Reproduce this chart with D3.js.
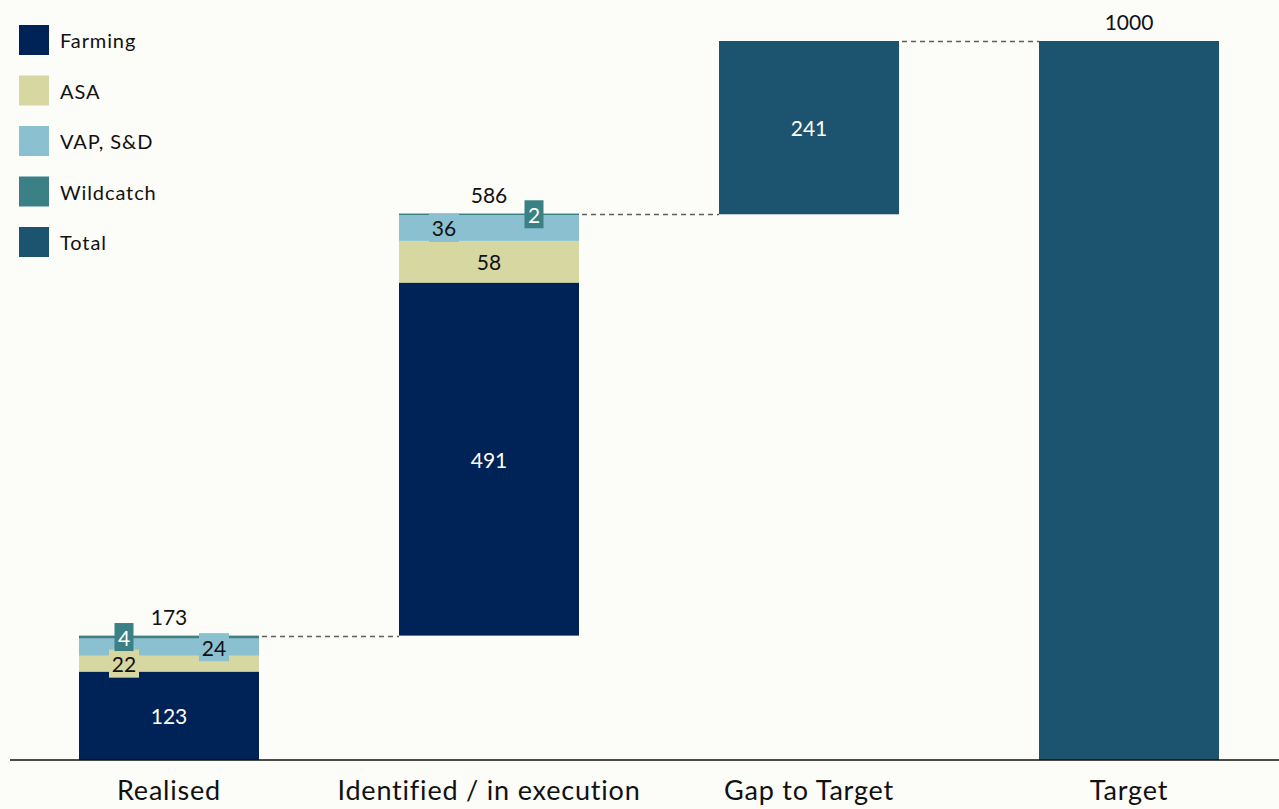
<!DOCTYPE html>
<html>
<head>
<meta charset="utf-8">
<script src="https://cdn.jsdelivr.net/npm/d3@7"></script>
<style>
  html, body { margin: 0; padding: 0; background: #fcfcf8; }
  svg { display: block; font-family: Lato, "Open Sans", sans-serif; }
</style>
</head>
<body>
<svg id="chart" width="1279" height="809"></svg>
<script>
// Categories along the x axis
const categories = ["Realised", "Identified / in execution", "Gap to Target", "Target"];
// Stacked series (bottom to top)
const seriesNames = ["Farming", "ASA", "VAP, S&D", "Wildcatch"];
const realisedValues = [123, 22, 24, 4];
const identifiedValues = [491, 58, 36, 2];
// Totals shown above / inside the bars
const realisedTotal = 173;
const identifiedTotal = 586;
const gapValue = 241;
const targetValue = 1000;
// Legend entries
const legendNames = ["Farming", "ASA", "VAP, S&D", "Wildcatch", "Total"];

const colors = {
  "Farming": "#002357",
  "ASA": "#d6d7a1",
  "VAP, S&D": "#8bc0d1",
  "Wildcatch": "#3a8085",
  "Total": "#1c546f"
};
const textOn = { "Farming": "#fff", "ASA": "#111", "VAP, S&D": "#111", "Wildcatch": "#fff", "Total": "#fff" };

const svg = d3.select("#chart");

const x = d3.scaleBand().domain(categories).range([9, 1289]).paddingInner(0.4375).paddingOuter(0.21875);
const y = d3.scaleLinear().domain([0, targetValue]).range([760, 41]);
const bw = x.bandwidth();

// Build stacked segments for a category from a list of values starting at a base
function stackSegments(cat, values, base) {
  let acc = base;
  return values.map((v, i) => {
    const seg = { cat, name: seriesNames[i], value: v, y0: acc, y1: acc + v };
    acc += v;
    return seg;
  });
}

const segs = [
  ...stackSegments(categories[0], realisedValues, 0),
  ...stackSegments(categories[1], identifiedValues, realisedTotal)
];

const totals = [
  { cat: categories[2], name: "Total", y0: targetValue - gapValue, y1: targetValue, value: gapValue },
  { cat: categories[3], name: "Total", y0: 0, y1: targetValue, value: targetValue }
];

// Connector lines between consecutive bars (snapped to the pixel grid)
const connectors = [
  { from: categories[0], to: categories[1], v: realisedTotal },
  { from: categories[1], to: categories[2], v: targetValue - gapValue },
  { from: categories[2], to: categories[3], v: targetValue }
];
svg.append("g").selectAll("line").data(connectors).join("line")
  .attr("x1", d => x(d.from) + bw + 3)
  .attr("x2", d => x(d.to))
  .attr("y1", d => Math.round(y(d.v)) + 0.5)
  .attr("y2", d => Math.round(y(d.v)) + 0.5)
  .attr("stroke", "#5e5e5e")
  .attr("stroke-width", 1.5)
  .attr("stroke-dasharray", "5,4");

// Bars
svg.append("g").selectAll("rect").data([...segs, ...totals]).join("rect")
  .attr("x", d => x(d.cat))
  .attr("width", bw)
  .attr("y", d => y(d.y1))
  .attr("height", d => y(d.y0) - y(d.y1))
  .attr("fill", d => colors[d.name]);

// Segment labels: large segments get a centred label, small ones a boxed
// label alternating left and right of the bar centre
const labelSize = 21;
const lbl = svg.append("g").attr("font-size", labelSize);
categories.slice(0, 2).forEach(cat => {
  let k = 0;
  segs.filter(s => s.cat === cat).forEach(s => {
    const h = y(s.y0) - y(s.y1);
    const cy = (y(s.y0) + y(s.y1)) / 2;
    let cx = x(cat) + bw / 2;
    const txt = String(s.value);
    if (h < 30) {
      cx += (k % 2 === 0 ? -1 : 1) * bw / 4;
      k++;
      const boxW = txt.length * 11 + 8;
      const boxH = 28;
      lbl.append("rect")
        .attr("x", cx - boxW / 2).attr("y", cy - boxH / 2)
        .attr("width", boxW).attr("height", boxH)
        .attr("fill", colors[s.name]);
    }
    lbl.append("text")
      .attr("x", cx).attr("y", cy)
      .attr("text-anchor", "middle")
      .attr("dominant-baseline", "central")
      .attr("fill", textOn[s.name])
      .text(txt);
  });
});

// Labels for the gap bar (inside) and totals (above)
lbl.append("text")
  .attr("x", x(categories[2]) + bw / 2)
  .attr("y", (y(targetValue) + y(targetValue - gapValue)) / 2)
  .attr("text-anchor", "middle").attr("dominant-baseline", "central")
  .attr("fill", "#fff").text(gapValue);

const topLabels = [
  { cat: categories[0], v: realisedTotal, top: realisedTotal },
  { cat: categories[1], v: identifiedTotal, top: realisedTotal + d3.sum(identifiedValues) },
  { cat: categories[3], v: targetValue, top: targetValue }
];
lbl.selectAll("text.top").data(topLabels).join("text")
  .attr("class", "top")
  .attr("x", d => x(d.cat) + bw / 2)
  .attr("y", d => y(d.top) - 11)
  .attr("text-anchor", "middle")
  .attr("fill", "#111")
  .text(d => d.v);

// X axis
const xAxis = svg.append("g").attr("transform", "translate(0,760)")
  .call(d3.axisBottom(x).tickSize(0));
xAxis.select(".domain").attr("d", "M10,0H1279").attr("stroke", "#111").attr("stroke-width", 1.5);
xAxis.selectAll(".tick text")
  .attr("y", 40).attr("dy", 0)
  .attr("font-size", 27).attr("letter-spacing", 0.8)
  .attr("font-family", "Lato, sans-serif").attr("fill", "#111");

// Legend
const legend = svg.append("g").attr("transform", "translate(19,25)");
const li = legend.selectAll("g").data(legendNames).join("g")
  .attr("transform", (d, i) => `translate(0,${i * 50.5})`);
li.append("rect").attr("width", 30).attr("height", 30).attr("fill", d => colors[d]);
li.append("text").attr("x", 41).attr("y", 15)
  .attr("dominant-baseline", "central")
  .attr("font-size", 20).attr("letter-spacing", 0.9).attr("fill", "#111")
  .text(d => d);
</script>
</body>
</html>
